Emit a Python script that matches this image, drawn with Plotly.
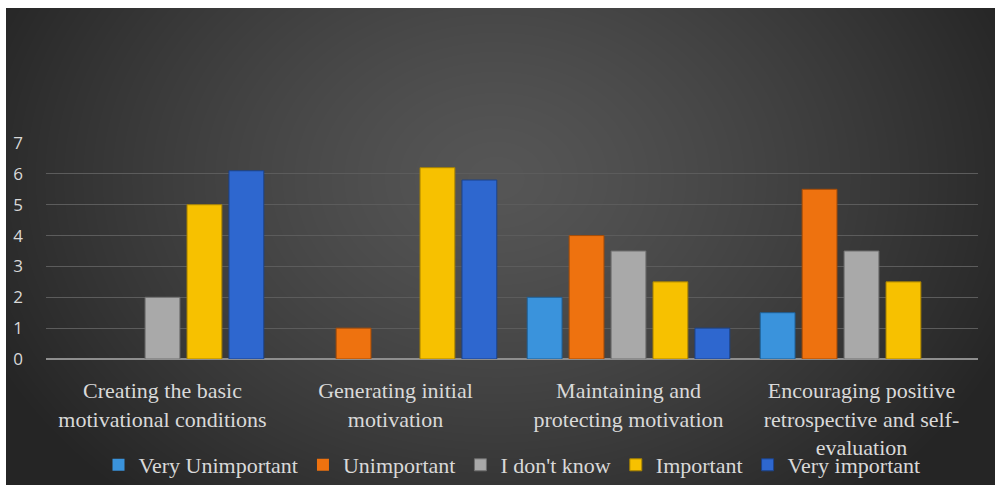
import base64, struct, zlib
import numpy as np
import plotly.graph_objects as go

categories = [
    "Creating the basic<br>motivational conditions",
    "Generating initial<br>motivation",
    "Maintaining and<br>protecting motivation",
    "Encouraging positive<br>retrospective and self-<br>evaluation",
]
series_names = ["Very Unimportant", "Unimportant", "I don't know", "Important", "Very important"]
very_unimportant = [0, 0, 2, 1.5]
unimportant = [0, 1, 4, 5.5]
dont_know = [2, 0, 3.5, 3.5]
important = [5, 6.2, 2.5, 2.5]
very_important = [6.1, 5.8, 1, 0]
y_ticks = [0, 1, 2, 3, 4, 5, 6, 7]

colors = ["#3a93dc", "#ee720f", "#a9a9a9", "#f7c100", "#2e67cf"]
edge = ["#1f5f95", "#a44c08", "#6e6e6e", "#a88300", "#1c438a"]

# --- background radial gradient as an inline PNG ---
W, H = 989, 477
yy, xx = np.mgrid[0:H, 0:W].astype(float)
cx, cy, rx, ry = 490.0, 170.0, 560.0, 430.0
d = np.sqrt(((xx - cx) / rx) ** 2 + ((yy - cy) / ry) ** 2)
d = np.clip(d, 0, 1)
val = 0x56 - (0x56 - 0x25) * d ** 1.3
img = np.clip(val, 0, 255).astype(np.uint8)
raw = b"".join(b"\x00" + img[r].tobytes() for r in range(H))

def chunk(t, data):
    c = struct.pack(">I", len(data)) + t + data
    return c + struct.pack(">I", zlib.crc32(t + data) & 0xFFFFFFFF)

png = b"\x89PNG\r\n\x1a\n" + chunk(b"IHDR", struct.pack(">IIBBBBB", W, H, 8, 0, 0, 0, 0)) \
    + chunk(b"IDAT", zlib.compress(raw, 9)) + chunk(b"IEND", b"")
uri = "data:image/png;base64," + base64.b64encode(png).decode()

all_vals = [very_unimportant, unimportant, dont_know, important, very_important]

fig = go.Figure()
for name, vals, c, e in zip(series_names, all_vals, colors, edge):
    fig.add_trace(go.Bar(
        name=name, x=categories, y=vals,
        marker=dict(color=c, line=dict(color=e, width=[1 if v else 0 for v in vals])),
    ))

L, R, T, B = 46, 22, 143, 128
pw, ph = 1000 - L - R, 487 - T - B

fig.update_layout(
    width=1000, height=487,
    margin=dict(l=L, r=R, t=T, b=B, autoexpand=False),
    paper_bgcolor="white",
    plot_bgcolor="rgba(0,0,0,0)",
    barmode="group",
    bargap=0.1,
    bargroupgap=0.17,
    showlegend=True,
    legend=dict(
        orientation="h", x=0.5, xanchor="center", y=(359 - 465) / ph, yanchor="middle",
        font=dict(family="Liberation Serif", size=22, color="#d9d9d9"),
        bgcolor="rgba(0,0,0,0)", itemwidth=30, traceorder="normal",
    ),
    images=[dict(
        source=uri, xref="paper", yref="paper",
        x=(6 - L) / pw, y=(359 - 8) / ph,
        sizex=W / pw, sizey=H / ph,
        xanchor="left", yanchor="top", sizing="stretch", layer="below",
    )],
    xaxis=dict(
        showgrid=False, showline=False, zeroline=False, automargin=False,
        tickfont=dict(family="Liberation Serif", size=22, color="#d9d9d9"),
        ticklabelstandoff=16,
    ),
    yaxis=dict(
        range=[0, 7], tickvals=y_ticks, showgrid=True, automargin=False,
        gridcolor="#5c5c5c", gridwidth=1,
        zeroline=True, zerolinecolor="#8e8e8e", zerolinewidth=2,
        tickfont=dict(family="Open Sans", size=17, color="#d9d9d9"),
        ticklabelstandoff=22,
    ),
)

fig.write_html("out.html")
